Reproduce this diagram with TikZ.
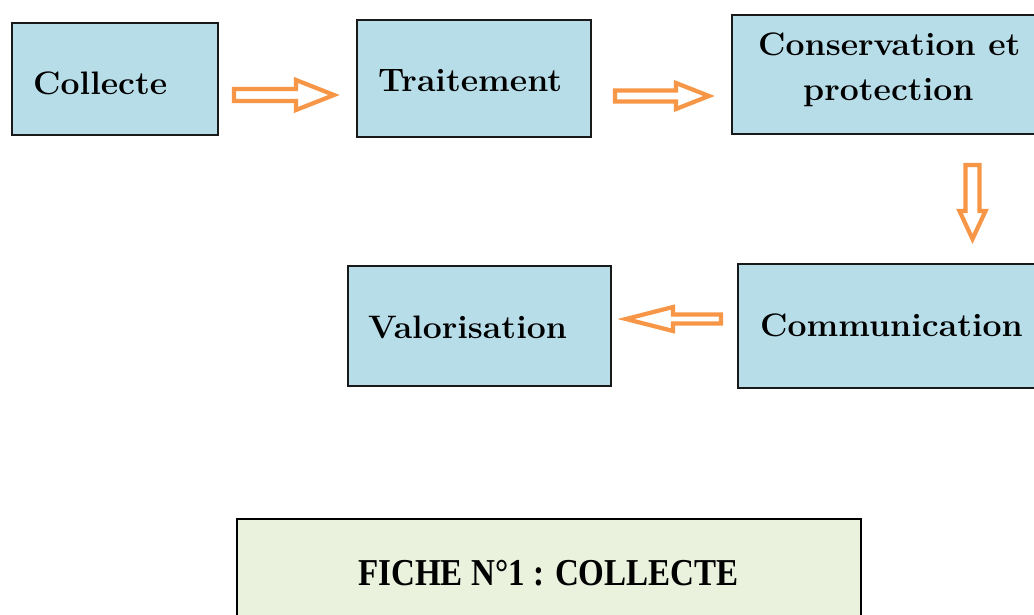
\documentclass[tikz,border=0pt]{standalone}
\usepackage{fontspec}
\newfontfamily\ficheserif{Liberation Serif}
\definecolor{boxblue}{HTML}{B7DDE8}
\definecolor{boxgreen}{HTML}{EAF1DD}
\definecolor{arroworange}{HTML}{F79646}
\newcommand{\stagetext}[1]{\scalebox{1.04}[1]{\bfseries\fontsize{32.5}{38}\selectfont #1}}
\tikzset{
  stage/.style={draw=black!90, line width=1.6pt, fill=boxblue, inner sep=0pt, anchor=north west},
  fichebox/.style={draw=black, line width=1.6pt, fill=boxgreen, inner sep=0pt, anchor=north west},
  lbl/.style={inner sep=0pt, anchor=base west},
  arrowline/.style={draw=arroworange, line width=4.2pt, fill=white, line join=miter},
  pics/blockarrow/.style args={#1/#2/#3/#4}{code={
    \draw[arrowline] (0,-#3/2) -- (#1-#2,-#3/2) -- (#1-#2,-#4/2) -- (#1,0)
      -- (#1-#2,#4/2) -- (#1-#2,#3/2) -- (0,#3/2) -- cycle;
  }}
}
\begin{document}
\begin{tikzpicture}[x=1pt,y=-1pt]
\useasboundingbox[fill=white] (0,0) rectangle (1034,615);
\clip (0,0) rectangle (1034,615);

% process stages
\node[stage, minimum width=206pt, minimum height=112pt] (collecte) at (11,22) {};
\node[stage, minimum width=234pt, minimum height=117pt] (traitement) at (356,19) {};
\node[stage, minimum width=320pt, minimum height=119pt] (conservation) at (731,14) {};
\node[stage, minimum width=314pt, minimum height=124pt] (communication) at (737,263) {};
\node[stage, minimum width=263pt, minimum height=120pt] (valorisation) at (347,265) {};

\node[lbl] (t-collecte) at (33,95) {\stagetext{Collecte}};
\node[lbl] (t-traitement) at (378,92) {\stagetext{Traitement}};
\node[lbl] (t-conservation1) at (758,56) {\stagetext{Conservation et}};
\node[lbl] (t-conservation2) at (803,101) {\stagetext{protection}};
\node[lbl] (t-communication) at (760,336) {\stagetext{Communication}};
\node[lbl] (t-valorisation) at (368,338) {\stagetext{Valorisation}};

% block arrows between stages
\pic at (234,95) {blockarrow=100/38/12/30};
\pic at (615,96) {blockarrow=94/33/11/26};
\pic[rotate=-90] at (972.5,165) {blockarrow=74/28/14/26};
\pic[rotate=180] at (721,319) {blockarrow=95/47/9/24};

% record sheet heading
\node[fichebox, minimum width=624pt, minimum height=120pt] (fiche) at (236,518) {};
\node[inner sep=0pt, anchor=base west] (t-fiche) at (358,585)
  {\scalebox{0.87}[1]{\ficheserif\bfseries\fontsize{38}{44}\selectfont FICHE N°1 : COLLECTE}};
\end{tikzpicture}
\end{document}
